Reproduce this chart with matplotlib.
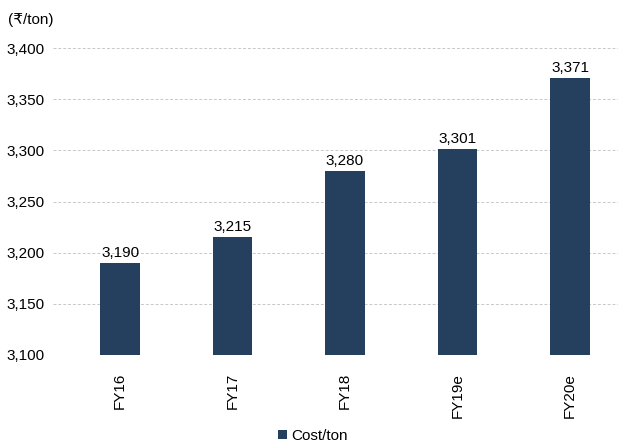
import matplotlib
matplotlib.use('Agg')
import matplotlib.pyplot as plt

years = ['FY16', 'FY17', 'FY18', 'FY19e', 'FY20e']
cost_per_ton = [3190, 3215, 3280, 3301, 3371]
yticks = [3100, 3150, 3200, 3250, 3300, 3350, 3400]

plt.rcParams['font.family'] = ['Liberation Sans', 'DejaVu Sans']
bar_color = '#253f5f'
fs = 11

fig = plt.figure(figsize=(6.18, 4.46), dpi=100)
ax = fig.add_axes([53 / 618, 1 - 355 / 446, 565 / 618, 307 / 446])

x = range(len(years))
bars = ax.bar(x, cost_per_ton, width=0.35, color=bar_color, label='Cost/ton', zorder=3)
for xi, v in zip(x, cost_per_ton):
    ax.text(xi, v + 3, f'{v:,}', ha='center', va='bottom', fontsize=fs)

ax.set_ylim(3100, 3400)
ax.set_xlim(-0.596, 4.427)
ax.set_yticks(yticks)
ax.set_yticklabels([f'{t:,}' for t in yticks], fontsize=fs)
ax.set_xticks(list(x))
ax.set_xticklabels(years, rotation=90, fontsize=fs)
ax.tick_params(axis='x', length=0, pad=13)
ax.tick_params(axis='y', length=0, pad=6)
ax.grid(axis='y', color='#c8c8c8', linestyle=(0, (3, 2)), linewidth=0.7, zorder=0)
for s in ax.spines.values():
    s.set_visible(False)

fig.text(8 / 618, 1 - 20 / 446, '(\u20b9/ton)', fontsize=fs, va='center', ha='left')

fig.legend(handles=[bars], labels=['Cost/ton'], loc='center', bbox_to_anchor=(313 / 618, 1 - 436 / 446),
           frameon=False, fontsize=fs, handlelength=0.6, handleheight=0.6, handletextpad=0.3)

fig.savefig('out.png', dpi=100)
